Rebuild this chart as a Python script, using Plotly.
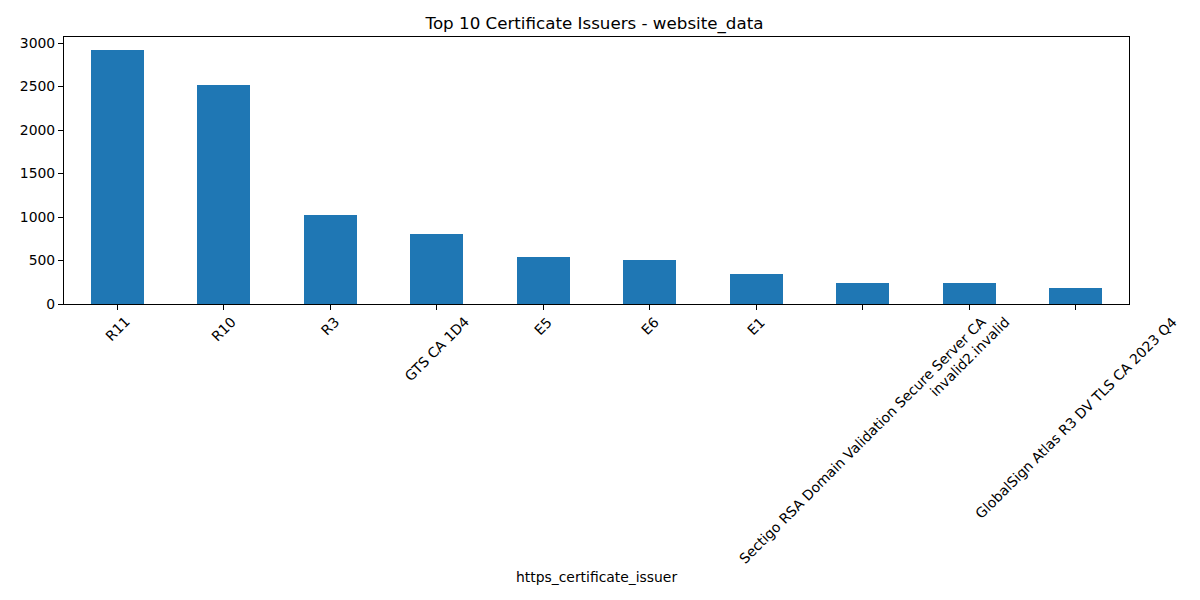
import plotly.graph_objects as go

issuers = ["R11", "R10", "R3", "GTS CA 1D4", "E5", "E6", "E1",
           "Sectigo RSA Domain Validation Secure Server CA",
           "invalid2.invalid", "GlobalSign Atlas R3 DV TLS CA 2023 Q4"]
counts = [2924, 2521, 1024, 806, 541, 506, 345, 242, 242, 184]
y_ticks = [0, 500, 1000, 1500, 2000, 2500, 3000]

FONT = "DejaVu Sans"
idx = list(range(len(issuers)))

fig = go.Figure(go.Bar(x=idx, y=counts, width=0.5, marker=dict(color="#1f77b4", line=dict(width=0))))

annotations = []
for i, name in zip(idx, issuers):
    annotations.append(dict(x=i, y=0, xref="x", yref="paper", text=name, showarrow=False,
                            textangle=-45, xanchor="center", yanchor="top", yshift=-7,
                            font=dict(family=FONT, size=13.9, color="black")))
annotations.append(dict(x=0.5, y=0, xref="paper", yref="paper", text="https_certificate_issuer",
                        showarrow=False, xanchor="center", yanchor="middle", yshift=-273,
                        font=dict(family=FONT, size=13.9, color="black")))

# page body has an 8px margin; offsets compensate so the plot area sits at x 60-1129, y 37-304
fig.update_layout(
    width=1200, height=600,
    margin=dict(l=52, r=79, t=29, b=304),
    plot_bgcolor="white", paper_bgcolor="white",
    font=dict(family=FONT, size=13.9, color="black"),
    title=dict(text="Top 10 Certificate Issuers - website_data", x=586.5 / 1200, xanchor="center",
               y=1 - 15 / 600, yanchor="middle", font=dict(family=FONT, size=16.7, color="black")),
    showlegend=False,
    annotations=annotations,
    bargap=0,
)
fig.update_xaxes(range=[-0.5, 9.5], tickvals=idx, ticktext=[""] * len(idx), showticklabels=False,
                 ticks="outside", ticklen=5, tickwidth=1.1, tickcolor="black",
                 showline=True, linecolor="black", linewidth=1.1, mirror=True, showgrid=False, zeroline=False)
fig.update_yaxes(range=[0, 3070], tickvals=y_ticks, ticks="outside", ticklen=5, tickwidth=1.1, tickcolor="black",
                 showline=True, linecolor="black", linewidth=1.1, mirror=True, showgrid=False, zeroline=False,
                 tickfont=dict(family=FONT, size=13.9, color="black"))

fig.write_html("out.html")
